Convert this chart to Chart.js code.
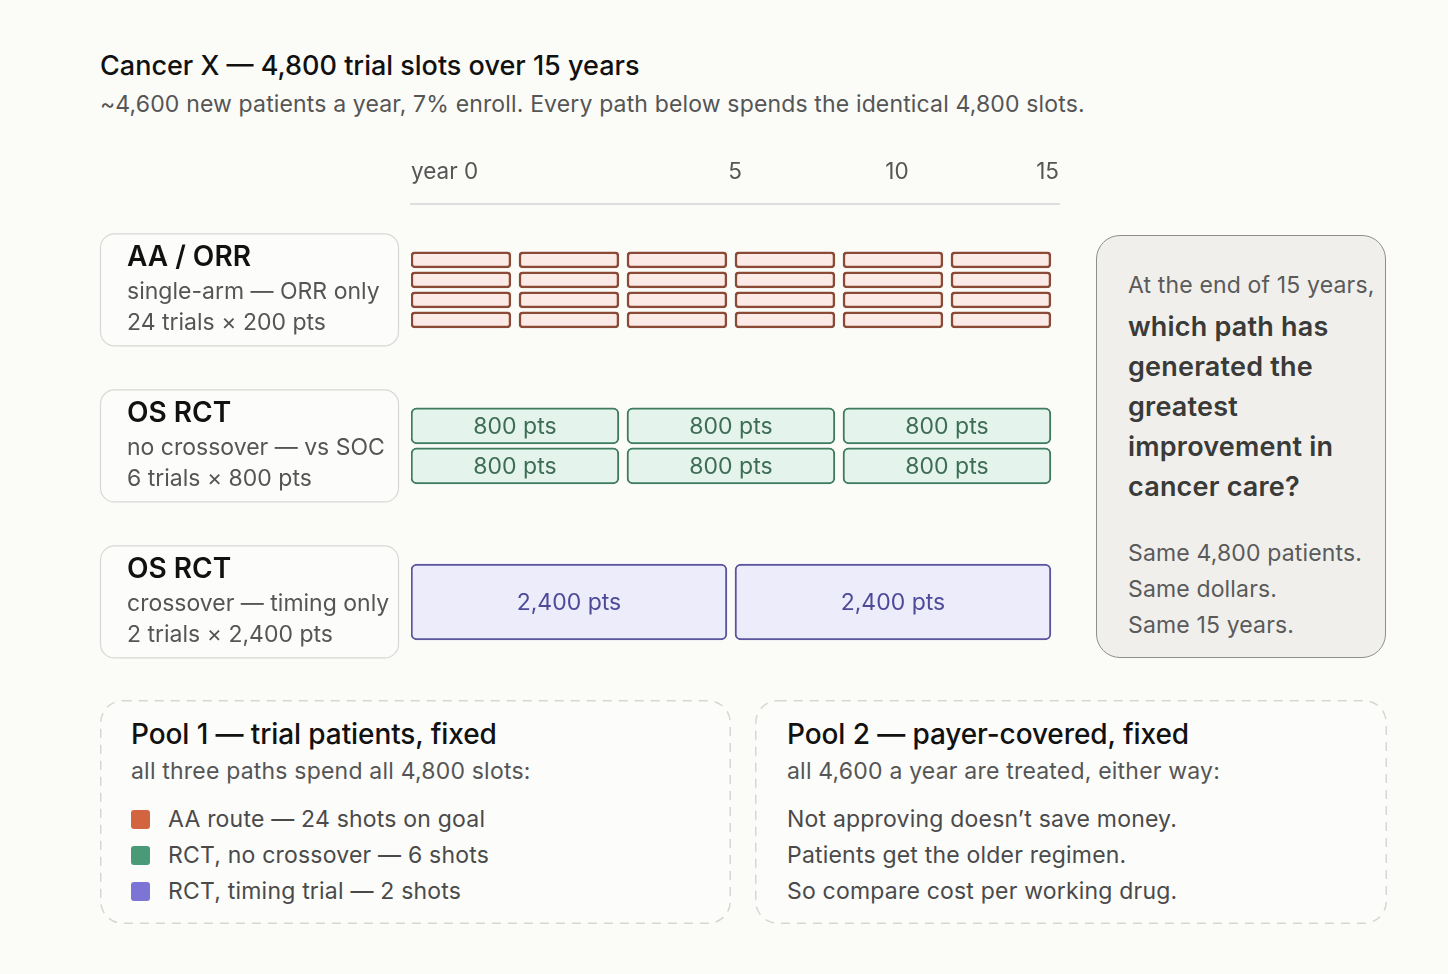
<!DOCTYPE html>
<html>
<head>
<meta charset="utf-8">
<script src="https://cdn.jsdelivr.net/npm/chart.js@4.4.1/dist/chart.umd.min.js"></script>
<style>
  html, body { margin: 0; background: #fbfbf8; }
  body { width: 1448px; height: 974px; position: relative; overflow: hidden; font-family: Inter, "Noto Sans", sans-serif; }
  #slots { position: absolute; left: 0; top: 0; }
  h1 { position: absolute; left: 100px; top: 48px; margin: 0; font-size: 27px; line-height: 36px; font-weight: 500; color: #111; letter-spacing: 0; }
  .sub { position: absolute; left: 100px; top: 87px; font-size: 23px; line-height: 34px; color: #555; letter-spacing: 0.15px; }
  .ask { position: absolute; left: 1096px; top: 235px; width: 290px; height: 423px; box-sizing: border-box;
         border: 1.5px solid #8e8e8c; border-radius: 24px; background: #f0efec; padding: 31px 0 0 31px; }
  .ask .lead, .ask .same { font-size: 23px; line-height: 36px; color: #5a5a5a; letter-spacing: 0.15px; }
  .ask .q { margin-top: 4px; font-size: 27px; line-height: 40px; font-weight: 600; color: #3a3a38; letter-spacing: 0.2px; }
  .pool { position: absolute; top: 700px; height: 223px; box-sizing: border-box; padding-top: 16px; }
  .pool svg { position: absolute; left: 0; top: 0; }
  .pool .t, .pool .s, .pool .li, .pool > div { position: relative; }
  .pool .t { font-size: 28px; line-height: 36px; font-weight: 500; color: #111; letter-spacing: -0.1px; }
  .pool .s { margin-top: 2px; font-size: 23px; line-height: 34px; color: #555; letter-spacing: 0.2px; }
  .pool .li { font-size: 23px; line-height: 36px; color: #4a4a4a; display: flex; align-items: center; letter-spacing: 0.2px; }
  .sw { width: 19px; height: 19px; border-radius: 3px; margin-right: 18px; }
</style>
</head>
<body>
<h1>Cancer X — 4,800 trial slots over 15 years</h1>
<div class="sub">~4,600 new patients a year, 7% enroll. Every path below spends the identical 4,800 slots.</div>

<canvas id="slots" width="1448" height="700"></canvas>

<div class="ask">
  <div class="lead">At the end of 15 years,</div>
  <div class="q">which path has<br>generated the<br>greatest<br>improvement in<br>cancer care?</div>
  <div class="same" style="margin-top:28px">Same 4,800 patients.</div>
  <div class="same">Same dollars.</div>
  <div class="same">Same 15 years.</div>
</div>

<div class="pool" style="left:100px;width:631px;padding-left:31px">
  <svg width="631" height="224"><rect x="0.75" y="0.75" width="629.5" height="222.5" rx="22" fill="#fcfcfa" stroke="#d6d6d4" stroke-width="1.5" stroke-dasharray="9 7"/></svg>
  <div class="t">Pool 1 — trial patients, fixed</div>
  <div class="s">all three paths spend all 4,800 slots:</div>
  <div id="legend" style="margin-top:13px"></div>
</div>

<div class="pool" style="left:755px;width:632px;padding-left:32px">
  <svg width="632" height="224"><rect x="0.75" y="0.75" width="630.5" height="222.5" rx="22" fill="#fcfcfa" stroke="#d6d6d4" stroke-width="1.5" stroke-dasharray="9 7"/></svg>
  <div class="t">Pool 2 — payer-covered, fixed</div>
  <div class="s">all 4,600 a year are treated, either way:</div>
  <div style="margin-top:13px">
    <div class="li">Not approving doesn’t save money.</div>
    <div class="li">Patients get the older regimen.</div>
    <div class="li">So compare cost per working drug.</div>
  </div>
</div>

<script>
// three ways to spend the same 4,800 trial slots
const paths = ['AA / ORR', 'OS RCT', 'OS RCT'];
const pathNotes = ['single-arm — ORR only', 'no crossover — vs SOC', 'crossover — timing only'];
const trialCounts = [24, 6, 2];
const ptsPerTrial = [200, 800, 2400];
const trialsPerColumn = [4, 2, 1];
const legendLabels = ['AA route — 24 shots on goal', 'RCT, no crossover — 6 shots', 'RCT, timing trial — 2 shots'];
const totalSlots = 4800;
const tickValues = [0, 2400, 3600, 4800];
const tickLabels = ['year 0', '5', '10', '15'];

const fills = ['#fbeae5', '#e4f3ec', '#ececfb'];
const borders = ['#8b4a35', '#3f7b5f', '#5b559f'];
const textColors = ['#8b4a35', '#3d6d55', '#4e4a98'];
const swatches = ['#d2653f', '#4a9a78', '#7c75d6'];

const FONT = 'Inter, "Noto Sans", sans-serif';
const GAP = 60;          // slots left empty between blocks
const BAND = 80;         // px height of each path's block stack
const ROW_PX = 156;      // px between path rows

// legend in Pool 1
const legend = document.getElementById('legend');
legendLabels.forEach((txt, i) => {
  const row = document.createElement('div');
  row.className = 'li';
  row.innerHTML = '<span class="sw" style="background:' + swatches[i] + '"></span>' + txt;
  legend.appendChild(row);
});

// one dataset per path, one floating bar per trial
const datasets = paths.map((p, i) => {
  const rows = trialsPerColumn[i];
  const colSlots = ptsPerTrial[i] * rows;
  const pitch = BAND / rows;
  const data = [];
  for (let t = 0; t < trialCounts[i]; t++) {
    const col = Math.floor(t / rows);
    const sub = t % rows;
    const start = col * colSlots;
    data.push({
      x: [start, start + colSlots - GAP],
      y: i + ((sub + 0.5) / rows - 0.5) * BAND / ROW_PX
    });
  }
  return {
    label: p,
    data: data,
    grouped: false,
    backgroundColor: fills[i],
    borderColor: borders[i],
    borderWidth: rows > 2 ? 2.5 : 2,
    borderRadius: rows > 2 ? 4 : 6,
    borderSkipped: false,
    barThickness: pitch - 4
  };
});

// label boxes on the left + "pts" text inside the bigger blocks
const pathBoxes = {
  id: 'pathBoxes',
  afterDatasetsDraw(chart) {
    const ctx = chart.ctx;
    const yScale = chart.scales.y;
    ctx.save();
    paths.forEach((p, i) => {
      const cy = yScale.getPixelForValue(i);
      ctx.beginPath();
      ctx.roundRect(100.5, cy - 56, 298, 112, 14);
      ctx.fillStyle = '#fcfcfa';
      ctx.fill();
      ctx.strokeStyle = '#d8d8d6';
      ctx.lineWidth = 1.2;
      ctx.stroke();

      ctx.textAlign = 'left';
      ctx.textBaseline = 'middle';
      ctx.fillStyle = '#111';
      ctx.font = '600 28px ' + FONT;
      ctx.fillText(p, 127, cy - 32);
      ctx.fillStyle = '#555';
      ctx.font = '23px ' + FONT;
      ctx.fillText(pathNotes[i], 127, cy + 2);
      ctx.fillText(trialCounts[i] + ' trials × ' + ptsPerTrial[i].toLocaleString('en-US') + ' pts', 127, cy + 33);

      const meta = chart.getDatasetMeta(i);
      meta.data.forEach(bar => {
        if (bar.height < 30) return;
        ctx.textAlign = 'center';
        ctx.fillStyle = textColors[i];
        ctx.font = '23px ' + FONT;
        ctx.fillText(ptsPerTrial[i].toLocaleString('en-US') + ' pts', (bar.x + bar.base) / 2, bar.y + 1);
      });
    });
    ctx.restore();
  }
};

new Chart(document.getElementById('slots'), {
  type: 'bar',
  data: { datasets: datasets },
  options: {
    responsive: false,
    animation: false,
    devicePixelRatio: 1,
    indexAxis: 'y',
    layout: { padding: { left: 411, right: 389, top: 141, bottom: 20 } },
    plugins: { legend: { display: false }, tooltip: { enabled: false } },
    scales: {
      x: {
        type: 'linear',
        position: 'top',
        min: 0,
        max: totalSlots,
        afterBuildTicks: scale => { scale.ticks = tickValues.map(v => ({ value: v })); },
        ticks: {
          autoSkip: false,
          maxRotation: 0,
          align: 'inner',
          padding: 18,
          color: '#555',
          font: { family: FONT, size: 22.5 },
          callback: (v, idx) => tickLabels[idx]
        },
        grid: { display: false, drawTicks: false },
        border: { display: true, color: '#dedede', width: 2 }
      },
      y: {
        type: 'linear',
        display: false,
        offset: false,
        reverse: true,
        min: -0.55,
        max: 2.5
      }
    }
  },
  plugins: [pathBoxes]
});
</script>
</body>
</html>
